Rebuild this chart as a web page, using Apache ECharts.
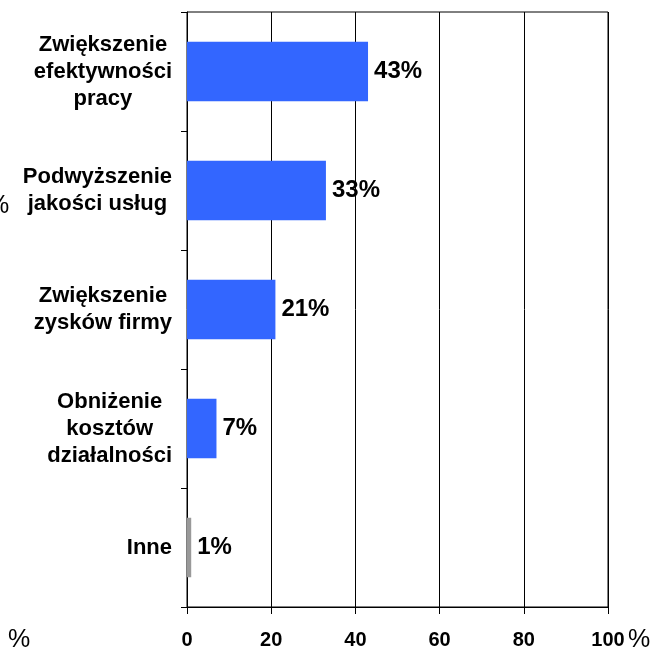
<!DOCTYPE html>
<html>
<head>
<meta charset="utf-8">
<script src="https://cdn.jsdelivr.net/npm/echarts@6/dist/echarts.min.js"></script>
<style>
  html, body { margin: 0; padding: 0; background: #fff; }
  #chart { width: 653px; height: 650px; }
</style>
</head>
<body>
<div id="chart"></div>
<script>
// categories top to bottom
const categories = [
  ['Zwiększenie', 'efektywności', 'pracy'],
  ['Podwyższenie', 'jakości usług'],
  ['Zwiększenie', 'zysków firmy'],
  ['Obniżenie', 'kosztów', 'działalności'],
  ['Inne']
]
const values = [43, 33, 21, 7, 1]
const barColors = ['#3366FF', '#3366FF', '#3366FF', '#3366FF', '#999999']
const xTicks = [0, 20, 40, 60, 80, 100]

const font = '"Liberation Sans", Arial, sans-serif'

const chart = echarts.init(document.getElementById('chart'))

chart.setOption({
  animation: false,
  grid: {
    left: 187, right: 45, top: 12, bottom: 42,
    show: true, borderColor: '#000', borderWidth: 1
  },
  xAxis: {
    type: 'value',
    min: xTicks[0],
    max: xTicks[xTicks.length - 1],
    interval: 20,
    axisLine: { show: true, lineStyle: { color: '#000', width: 1 } },
    axisTick: { show: true, length: 7, lineStyle: { color: '#000' } },
    splitLine: { show: true, lineStyle: { color: '#000', width: 1 } },
    axisLabel: {
      margin: 23,
      color: '#000',
      fontFamily: font,
      fontWeight: 'bold',
      fontSize: 20
    }
  },
  yAxis: {
    type: 'category',
    inverse: true,
    data: categories.map(c => c.join('\n')),
    axisLine: { show: true, lineStyle: { color: '#000', width: 1 } },
    axisTick: { show: true, length: 6, lineStyle: { color: '#000' } },
    axisLabel: {
      margin: 15,
      align: 'right',
      formatter: v => v.split('\n').map(s => '{a|' + s + '}').join('\n'),
      rich: {
        a: {
          align: 'center',
          color: '#000',
          fontFamily: font,
          fontWeight: 'bold',
          fontSize: 22,
          lineHeight: 27
        }
      }
    }
  },
  series: [{
    type: 'bar',
    barWidth: '50%',
    data: values.map((v, i) => ({ value: v, itemStyle: { color: barColors[i] } })),
    label: {
      show: true,
      position: 'right',
      distance: 6,
      formatter: '{c}%',
      color: '#000',
      fontFamily: font,
      fontWeight: 'bold',
      fontSize: 24
    }
  }],
  graphic: [
    { type: 'text', left: 8, top: 628, style: { text: '%', font: '25px ' + font, fill: '#000' } },
    { type: 'text', left: 628, top: 628, style: { text: '%', font: '25px ' + font, fill: '#000' } },
    { type: 'text', left: -13, top: 194, style: { text: '%', font: '25px ' + font, fill: '#000' } }
  ]
})
</script>
</body>
</html>
